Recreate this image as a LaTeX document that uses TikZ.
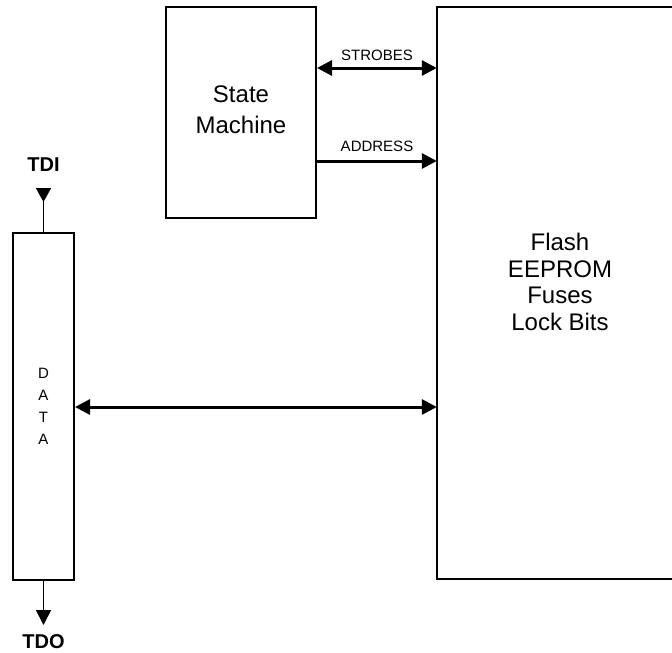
\documentclass[tikz,border=0pt]{standalone}
\usepackage{fontspec}
\setmainfont{Liberation Sans}
\usetikzlibrary{arrows.meta}
\begin{document}
\begin{tikzpicture}[x=1pt,y=-1pt,
  box/.style={draw, line width=2pt, inner sep=0pt},
  bus/.style={line width=3pt},
  bigtip/.tip={Triangle[length=15pt,width=15pt]},
  sig/.style={line width=1.6pt},
  lbl/.style={font=\fontsize{15}{15}\selectfont, inner sep=0pt},
  pin/.style={font=\fontsize{20}{20}\selectfont\bfseries, inner sep=0pt}]
\useasboundingbox (0,0) rectangle (672,653);
% boxes
\node[box, minimum width=150pt, minimum height=211pt] (sm) at (241,112.5) {};
\node[inner sep=0pt, align=center, font=\fontsize{24}{31}\selectfont] (smtext) at (241,110) {State\\Machine};
\node[inner sep=0pt, minimum width=235pt, minimum height=572pt] (flash) at (554.5,293) {};
\draw[line width=2pt] (flash.north east) -- (flash.north west) -- (flash.south west) -- (flash.south east);
\node[inner sep=0pt, align=center, font=\fontsize{24}{26.5}\selectfont] (fltext) at (560,282) {Flash\\EEPROM\\Fuses\\Lock Bits};
\node[box, minimum width=61pt, minimum height=347pt, align=center,
      font=\fontsize{15}{22}\selectfont] (data) at (43.5,406.5) {D\\A\\T\\A};
% buses
\draw[bus, {bigtip}-{bigtip}] (sm.east |- {(0,68)}) -- (flash.west |- {(0,68)});
\node[lbl] (strobes) at (377,55) {STROBES};
\draw[bus, -{bigtip}] (sm.east |- {(0,161)}) -- (flash.west |- {(0,161)});
\node[lbl] (address) at (377,146) {ADDRESS};
\draw[bus, {bigtip}-{bigtip}] (data.east |- {(0,407)}) -- (flash.west |- {(0,407)});
% TDI / TDO
\node[pin] (tdi) at (43.5,165) {TDI};
\coordinate (tdiTop) at (43.5,188);
\draw[sig, {Triangle[reversed,length=14pt,width=15pt]}-] (tdiTop) -- (data.north);
\coordinate (tdoEnd) at (43.5,625);
\draw[sig, -{Triangle[length=15pt,width=15pt]}] (data.south) -- (tdoEnd);
\node[pin] (tdo) at (43.5,642) {TDO};
\end{tikzpicture}
\end{document}
